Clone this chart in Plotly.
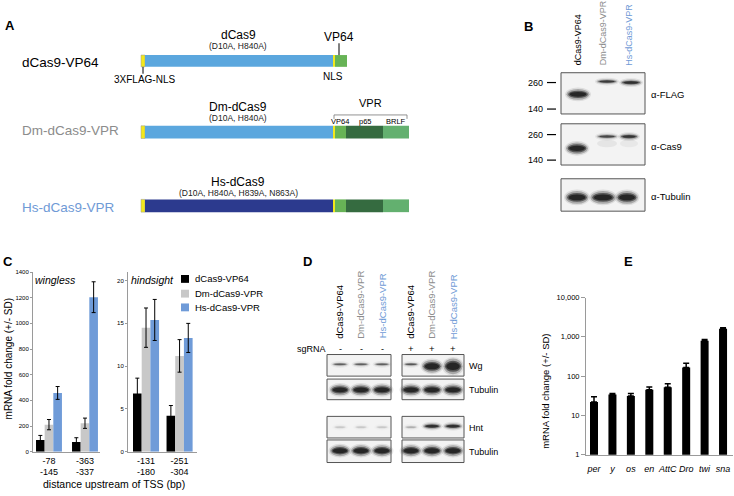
import plotly.graph_objects as go

W, H = 734, 496
FONT = "Arial, Liberation Sans, sans-serif"

# ---------------- data ----------------
legend_names = ["dCas9-VP64", "Dm-dCas9-VPR", "Hs-dCas9-VPR"]
bar_colors = ["#000000", "#c8c8c8", "#6f9bd8"]

wg_sites = ["-78<br>-145", "-363<br>-337"]
wg_vp64 = [92, 76]
wg_vp64_sd = [35, 33]
wg_dm = [211, 222]
wg_dm_sd = [40, 40]
wg_hs = [458, 1204]
wg_hs_sd = [50, 120]

hnt_sites = ["-131<br>-180", "-251<br>-304"]
hnt_vp64 = [6.8, 4.2]
hnt_vp64_sd = [1.8, 1.2]
hnt_dm = [14.5, 11.2]
hnt_dm_sd = [2.3, 1.9]
hnt_hs = [15.4, 13.3]
hnt_hs_sd = [2.4, 1.7]

e_genes = ["per", "y", "os", "en", "AttC", "Dro", "twi", "sna"]
e_fold = [22, 34, 31, 45, 52, 165, 790, 1600]
e_sd = [8, 2, 5, 8, 12, 48, 60, 100]
e_ticks = [1, 10, 100, 1000, 10000]
e_ticktext = ["1", "10", "100", "1,000", "10,000"]

wg_ticks = [0, 200, 400, 600, 800, 1000, 1200, 1400]
hnt_ticks = [0, 5, 10, 15, 20]


def X(px):
    return px / W


def Y(py):
    return 1 - py / H


shapes = []
annots = []


def rect(x0, y0, x1, y1, fill, lc=None, lw=0):
    shapes.append(dict(type="rect", xref="paper", yref="paper",
                       x0=X(x0), x1=X(x1), y0=Y(y1), y1=Y(y0),
                       fillcolor=fill, line=dict(color=lc or fill, width=lw)))


def line(x0, y0, x1, y1, color="#000", w=1):
    shapes.append(dict(type="line", xref="paper", yref="paper",
                       x0=X(x0), x1=X(x1), y0=Y(y0), y1=Y(y1),
                       line=dict(color=color, width=w)))


def ell(cx, cy, w, h, color, op):
    shapes.append(dict(type="circle", xref="paper", yref="paper",
                       x0=X(cx - w / 2), x1=X(cx + w / 2),
                       y0=Y(cy + h / 2), y1=Y(cy - h / 2),
                       fillcolor=color, opacity=op, line=dict(width=0)))


def band(cx, cy, w, h, strength=1.0):
    ell(cx, cy, w + 4, h + 4, "#666", 0.15 * strength)
    ell(cx, cy, w + 1, h + 1, "#444", 0.35 * strength)
    ell(cx, cy, w * 0.9, h * 0.75, "#222", 0.6 * strength)
    ell(cx, cy, w * 0.75, h * 0.5, "#111", 0.7 * strength)


def txt(x, y, s, size, color="#000", xa="center", ya="middle", angle=0):
    annots.append(dict(x=X(x), y=Y(y), xref="paper", yref="paper", text=s,
                       showarrow=False, xanchor=xa, yanchor=ya, textangle=angle,
                       font=dict(family=FONT, size=size, color=color)))


GREY_T = "#8c8c8c"
BLUE_T = "#6f9ad6"

# ---------------- panel letters ----------------
for L, x, y in [("A", 10, 22), ("B", 528, 23), ("C", 8, 262), ("D", 307, 262), ("E", 628, 262)]:
    txt(x, y, "<b>%s</b>" % L, 13)

# ---------------- panel A ----------------
LBLUE, NAVY, YEL = "#5ba7de", "#2c3a8e", "#f2e81c"
G_VP, G_P65, G_BR = "#67b356", "#356b40", "#63b06f"

# row 1
txt(20, 60, "dCas9-VP64", 13.5, xa="left")
txt(238, 32, "dCas9", 12)
txt(238, 43, "(D10A, H840A)", 8.5, "#222")
rect(141, 52, 145, 64, YEL, "#999", 0.5)
rect(145, 52, 333, 64, LBLUE)
rect(333, 52, 335, 64, YEL)
rect(335, 52, 347, 64, G_VP)
txt(339, 34, "VP64", 12)
line(339, 40, 339, 52)
line(143, 64, 143, 71)
txt(144, 77, "3XFLAG-NLS", 10)
txt(333, 74, "NLS", 10)

# row 2
txt(20, 129, "Dm-dCas9-VPR", 13.5, GREY_T, xa="left")
txt(238, 105, "Dm-dCas9", 12)
txt(238, 116, "(D10A, H840A)", 8.5, "#222")
rect(141, 124, 145, 137, YEL, "#999", 0.5)
rect(145, 124, 333, 137, LBLUE)
rect(333, 124, 335, 137, YEL)
rect(335, 124, 346, 137, G_VP)
rect(346, 124, 383, 137, G_P65)
rect(383, 124, 409, 137, G_BR)
txt(370, 101, "VPR", 11)
line(334, 113, 407, 113, "#777", 0.8)
line(334, 113, 334, 117, "#777", 0.8)
line(407, 113, 407, 117, "#777", 0.8)
txt(340, 120, "VP64", 7.5)
txt(365, 120, "p65", 7.5)
txt(396, 120, "BRLF", 7.5)

# row 3
txt(20, 207, "Hs-dCas9-VPR", 13.5, BLUE_T, xa="left")
txt(238, 181, "Hs-dCas9", 12)
txt(238, 193, "(D10A, H840A, H839A, N863A)", 8.5, "#222")
rect(141, 199, 145, 212, YEL, "#999", 0.5)
rect(145, 199, 333, 212, NAVY)
rect(333, 199, 335, 212, YEL)
rect(335, 199, 346, 212, G_VP)
rect(346, 199, 383, 212, G_P65)
rect(383, 199, 409, 212, G_BR)

# ---------------- panel B ----------------
BG = "#f3f3f3"
b_lanes = [578, 603, 629]
for lx, name, col in zip(b_lanes, legend_names, ["#000", GREY_T, BLUE_T]):
    txt(lx, 65, name, 9, col, ya="bottom", angle=-90)
rect(561, 70, 645, 112, BG, "#555", 1)
rect(561, 122, 645, 164, BG, "#555", 1)
rect(561, 178, 645, 211, BG, "#555", 1)
for y, lab in [(80, "260"), (107, "140"), (133, "260"), (159, "140")]:
    txt(545, y, lab, 9, xa="right")
    line(547, y, 556, y, "#000", 1.2)
txt(649, 92, "α-FLAG", 9.5, xa="left")
txt(649, 145, "α-Cas9", 9.5, xa="left")
txt(649, 196, "α-Tubulin", 9.5, xa="left")
# FLAG blot
band(578, 92, 22, 10, 1.0)
band(607, 79, 20, 4, 0.8)
band(631, 80, 20, 5, 0.9)
# Cas9 blot
band(577, 147, 21, 11, 1.0)
band(607, 135, 20, 4, 0.7)
band(629, 135, 18, 5, 0.85)
ell(607, 142, 20, 8, "#999", 0.15)
ell(629, 142, 18, 8, "#999", 0.12)
# Tubulin blot
band(577, 197, 22, 12, 1.0)
band(603, 197, 24, 12, 1.0)
band(627, 197, 21, 12, 1.0)

# ---------------- panel D ----------------
d_lanes1 = [340, 361, 382]
d_lanes2 = [411, 432, 453]
for lx, name, col in zip(d_lanes1, legend_names, ["#000", GREY_T, BLUE_T]):
    txt(lx, 343, name, 9.5, col, ya="bottom", angle=-90)
    txt(lx, 351, "-", 9)
for lx, name, col in zip(d_lanes2, legend_names, ["#000", GREY_T, BLUE_T]):
    txt(lx, 343, name, 9.5, col, ya="bottom", angle=-90)
    txt(lx, 351, "+", 9.5)
txt(311, 351, "sgRNA", 9)
for (y0, y1) in [(357, 379), (382, 403), (420, 442), (444, 467)]:
    rect(327, y0, 391, y1, BG, "#555", 1)
    rect(402, y0, 464, y1, BG, "#555", 1)
txt(467, 369, "Wg", 9, xa="left")
txt(467, 393, "Tubulin", 9, xa="left")
txt(467, 432, "Hnt", 9, xa="left")
txt(467, 456, "Tubulin", 9, xa="left")
# Wg
for lx in d_lanes1:
    band(lx, 367, 15, 3, 0.55)
band(411, 367, 14, 3, 0.6)
band(432, 369, 19, 12, 1.0)
band(453, 369, 18, 15, 1.0)
# tubulin 1
for lx in d_lanes1 + d_lanes2:
    band(lx, 393, 19, 10, 1.0)
# Hnt
for lx in d_lanes1:
    band(lx, 431, 12, 3, 0.12)
band(411, 431, 12, 3, 0.2)
band(432, 430, 17, 5, 0.9)
band(453, 430, 17, 5, 0.9)
# tubulin 2
for lx in d_lanes1 + d_lanes2:
    band(lx, 455, 19, 10, 1.0)

# ---------------- panel C (bar charts) ----------------
fig = go.Figure()
err_style = dict(type="data", color="#000", thickness=1, width=2)

wl_w = 0.24
wl_off = [-0.36, -0.12, 0.12]
for name, vals, sd, col, off in zip(legend_names, [wg_vp64, wg_dm, wg_hs],
                                    [wg_vp64_sd, wg_dm_sd, wg_hs_sd], bar_colors, wl_off):
    fig.add_trace(go.Bar(x=list(range(len(wg_sites))), y=vals, width=wl_w, offset=off,
                         marker=dict(color=col, line=dict(width=0)),
                         error_y=dict(array=sd, **err_style),
                         xaxis="x", yaxis="y", showlegend=False))

hn_w = 0.259
hn_off = [-0.388, -0.129, 0.13]
for name, vals, sd, col, off in zip(legend_names, [hnt_vp64, hnt_dm, hnt_hs],
                                    [hnt_vp64_sd, hnt_dm_sd, hnt_hs_sd], bar_colors, hn_off):
    fig.add_trace(go.Bar(x=list(range(len(hnt_sites))), y=vals, width=hn_w, offset=off,
                         marker=dict(color=col, line=dict(width=0)),
                         error_y=dict(array=sd, **err_style),
                         xaxis="x2", yaxis="y2", showlegend=False))

# legend for C (drawn as squares + text)
for i, (name, col) in enumerate(zip(legend_names, bar_colors)):
    yy = [280, 295, 309][i]
    rect(181, yy - 4, 189, yy + 4, col)
    txt(193, yy, name, 9.5, xa="left")

txt(55, 281, "<i>wingless</i>", 10.5)
txt(152, 281, "<i>hindsight</i>", 10.5)
txt(8, 362, "mRNA fold change (+/- SD)", 10, angle=-90)
txt(114, 489, "distance upstream of TSS (bp)", 10.5)

# ---------------- panel E ----------------
fig.add_trace(go.Bar(x=list(range(len(e_genes))), y=e_fold, width=0.434, offset=-0.217,
                     marker=dict(color="#000", line=dict(width=0)),
                     error_y=dict(array=e_sd, arrayminus=[0] * len(e_sd), symmetric=False,
                                  type="data", color="#000", thickness=1.5, width=3),
                     xaxis="x3", yaxis="y3", showlegend=False))
txt(546, 395, "mRNA fold change (+/- SD)", 9.5, angle=-90)

ax_common = dict(showgrid=False, zeroline=False, showline=True, linecolor="#9a9a9a",
                 linewidth=1)
fig.update_layout(
    width=W, height=H, autosize=False,
    margin=dict(l=0, r=0, t=0, b=0),
    paper_bgcolor="white", plot_bgcolor="white",
    barmode="group",
    shapes=shapes, annotations=annots,
    font=dict(family=FONT, color="#000"),
    xaxis=dict(domain=[X(33), X(100)], range=[-0.444, 1.417], anchor="y",
               tickvals=list(range(len(wg_sites))), ticktext=wg_sites, ticks="",
               tickangle=0, tickfont=dict(size=9), **ax_common),
    yaxis=dict(domain=[Y(456), Y(273)], range=[0, 1400], anchor="x",
               tickvals=wg_ticks, ticks="outside", ticklen=2, tickcolor="#9a9a9a",
               tickfont=dict(size=6), **ax_common),
    xaxis2=dict(domain=[X(128), X(197)], range=[-0.537, 1.52], anchor="y2",
                tickvals=list(range(len(hnt_sites))), ticktext=hnt_sites, ticks="",
                tickangle=0, tickfont=dict(size=9), **ax_common),
    yaxis2=dict(domain=[Y(456), Y(273)], range=[0, 21], anchor="x2",
                tickvals=hnt_ticks, ticks="outside", ticklen=2, tickcolor="#9a9a9a",
                tickfont=dict(size=6), **ax_common),
    xaxis3=dict(domain=[X(586), X(733)], range=[-0.434, 7.54], anchor="y3",
                tickvals=list(range(len(e_genes))),
                ticktext=["<i>%s</i>" % g for g in e_genes], ticks="outside",
                ticklen=6, tickcolor="rgba(0,0,0,0)",
                tickangle=0, tickfont=dict(size=9), **ax_common),
    yaxis3=dict(domain=[Y(459), Y(299)], type="log", range=[0, 4], anchor="x3",
                tickvals=e_ticks, ticktext=e_ticktext, ticks="outside", ticklen=4,
                tickcolor="#9a9a9a", tickfont=dict(size=7.5), **ax_common),
)

fig.write_html("out.html",
               config={"displayModeBar": False},
               post_script="document.body.style.margin='0';"
                           "document.body.style.overflow='hidden';")
